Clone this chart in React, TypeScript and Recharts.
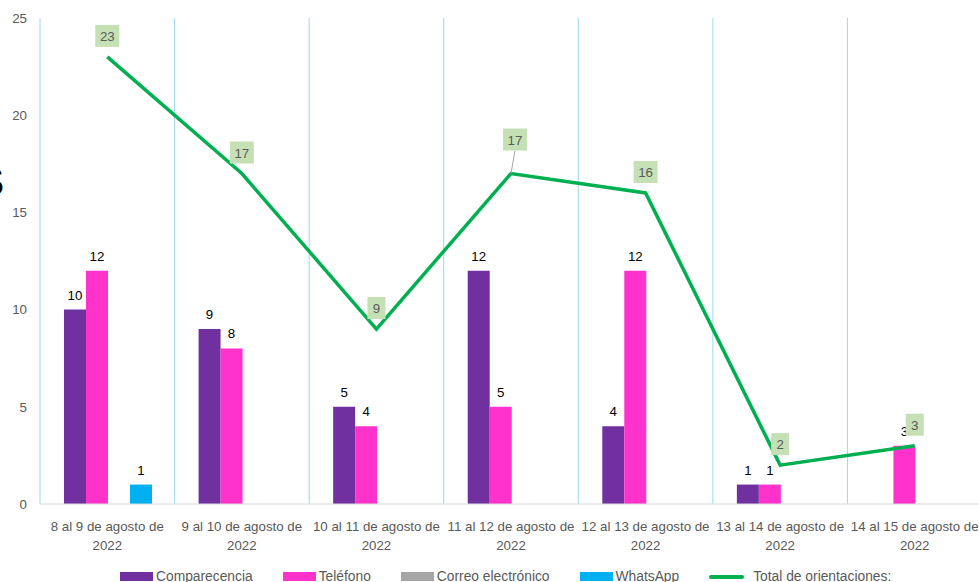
import React from 'react';
import { ComposedChart, Bar, Line, XAxis, YAxis, CartesianGrid, LabelList, Legend } from 'recharts';

const categories = [
  '8 al 9 de agosto de 2022',
  '9 al 10 de agosto de 2022',
  '10 al 11 de agosto de 2022',
  '11 al 12 de agosto de 2022',
  '12 al 13 de agosto de 2022',
  '13 al 14 de agosto de 2022',
  '14 al 15 de agosto de 2022',
];
const comparecencia = [10, 9, 5, 12, 4, 1, 0];
const telefono = [12, 8, 4, 5, 12, 1, 3];
const correo = [0, 0, 0, 0, 0, 0, 0];
const whatsapp = [1, 0, 0, 0, 0, 0, 0];
const total = [23, 17, 9, 17, 16, 2, 3];
const yTicks = [0, 5, 10, 15, 20, 25];

const seriesNames = {
  comparecencia: 'Comparecencia',
  telefono: 'Teléfono',
  correo: 'Correo electrónico',
  whatsapp: 'WhatsApp',
  total: 'Total de orientaciones:',
};

const data = categories.map((c, i) => ({
  name: c,
  comparecencia: comparecencia[i],
  telefono: telefono[i],
  correo: correo[i],
  whatsapp: whatsapp[i],
  total: total[i],
}));

const FONT = '"Liberation Sans", Arial, sans-serif';
const COLORS = {
  comparecencia: '#7030A0',
  telefono: '#FF33CC',
  correo: '#A5A5A5',
  whatsapp: '#00B0F0',
  total: '#00B050',
};

const XTick = (props: any) => {
  const { x, y, payload } = props;
  const s: string = payload.value;
  const idx = s.lastIndexOf(' ');
  const l1 = s.slice(0, idx);
  const l2 = s.slice(idx + 1);
  return (
    <g>
      <text x={x} y={y + 19} textAnchor="middle" fill="#595959" fontSize={13.3} fontFamily={FONT}>{l1}</text>
      <text x={x} y={y + 38} textAnchor="middle" fill="#595959" fontSize={13.3} fontFamily={FONT}>{l2}</text>
    </g>
  );
};

const BarLabel = (props: any) => {
  const { x, y, width, value } = props;
  if (!value) return null;
  return (
    <text x={x + width / 2} y={y - 10} textAnchor="middle" fontSize={13.3} fill="#000" fontFamily={FONT}>{value}</text>
  );
};

const LineLabel = (props: any) => {
  const { x, y, value, index } = props;
  const lifted = index === 3;
  const w = String(value).length > 1 ? 24 : 18;
  const h = 22;
  const cx = x + (lifted ? 4 : 0);
  const cy = y - (lifted ? 34 : 21);
  return (
    <g>
      {lifted && <line x1={x} y1={y} x2={cx} y2={cy + h / 2} stroke="#A6A6A6" strokeWidth={1} />}
      <rect x={cx - w / 2} y={cy - h / 2} width={w} height={h} fill="#C5E0B4" />
      <text x={cx} y={cy + 5} textAnchor="middle" fill="#595959" fontSize={13.3} fontFamily={FONT}>{value}</text>
    </g>
  );
};

const LegendContent = () => {
  const items = [
    { key: 'comparecencia', type: 'bar' },
    { key: 'telefono', type: 'bar' },
    { key: 'correo', type: 'bar' },
    { key: 'whatsapp', type: 'bar' },
    { key: 'total', type: 'line' },
  ];
  return (
    <div style={{ display: 'flex', alignItems: 'center', paddingLeft: 120, gap: 30, fontFamily: FONT, fontSize: 13.8, color: '#595959' }}>
      {items.map((it) => (
        <div key={it.key} style={{ display: 'flex', alignItems: 'center' }}>
          {it.type === 'bar' ? (
            <div style={{ width: 33, height: 9, background: (COLORS as any)[it.key], marginRight: 3 }} />
          ) : (
            <div style={{ width: 35, height: 4, background: COLORS.total, borderRadius: 2, marginRight: 9 }} />
          )}
          <span>{(seriesNames as any)[it.key]}</span>
        </div>
      ))}
    </div>
  );
};

export default function App() {
  return (
    <div style={{ position: 'absolute', left: 0, top: 0, width: 979, height: 582, overflow: 'hidden', background: '#fff' }}>
      <div style={{ position: 'absolute', left: -24, top: 161, fontSize: 42, lineHeight: 1, fontWeight: 'bold', fontFamily: FONT, color: '#000' }}>S</div>
      <ComposedChart
        width={990}
        height={590}
        data={data}
        margin={{ top: 18, right: 8, left: 0, bottom: 36 }}
        barCategoryGap={24}
        barGap={0}
      >
        <CartesianGrid
          horizontal={false}
          vertical
          stroke="#9ED9F0"
          strokeWidth={1}
          verticalCoordinatesGenerator={({ offset }: any) =>
            categories.map((_, i) => offset.left + (i * offset.width) / categories.length).concat([offset.left + offset.width])
          }
        />
        <XAxis
          dataKey="name"
          height={50}
          interval={0}
          tick={<XTick />}
          tickLine={false}
          axisLine={{ stroke: '#D9D9D9', strokeWidth: 1 }}
        />
        <YAxis
          width={40}
          domain={[0, 25]}
          ticks={yTicks}
          axisLine={false}
          tickLine={false}
          tickSize={6}
          tickMargin={7}
          tick={{ fill: '#595959', fontSize: 13.3, fontFamily: FONT }}
        />
        <Bar dataKey="comparecencia" name={seriesNames.comparecencia} fill={COLORS.comparecencia} isAnimationActive={false}>
          <LabelList dataKey="comparecencia" content={<BarLabel />} />
        </Bar>
        <Bar dataKey="telefono" name={seriesNames.telefono} fill={COLORS.telefono} isAnimationActive={false}>
          <LabelList dataKey="telefono" content={<BarLabel />} />
        </Bar>
        <Bar dataKey="correo" name={seriesNames.correo} fill={COLORS.correo} isAnimationActive={false}>
          <LabelList dataKey="correo" content={<BarLabel />} />
        </Bar>
        <Bar dataKey="whatsapp" name={seriesNames.whatsapp} fill={COLORS.whatsapp} isAnimationActive={false}>
          <LabelList dataKey="whatsapp" content={<BarLabel />} />
        </Bar>
        <Line
          type="linear"
          dataKey="total"
          name={seriesNames.total}
          stroke={COLORS.total}
          strokeWidth={3.5}
          dot={false}
          activeDot={false}
          isAnimationActive={false}
        >
          <LabelList dataKey="total" content={<LineLabel />} />
        </Line>
        <Legend
          layout="horizontal"
          verticalAlign="middle"
          align="center"
          content={<LegendContent />}
          wrapperStyle={{ position: 'absolute', top: 569, left: 0, width: 979 }}
        />
      </ComposedChart>
    </div>
  );
}
